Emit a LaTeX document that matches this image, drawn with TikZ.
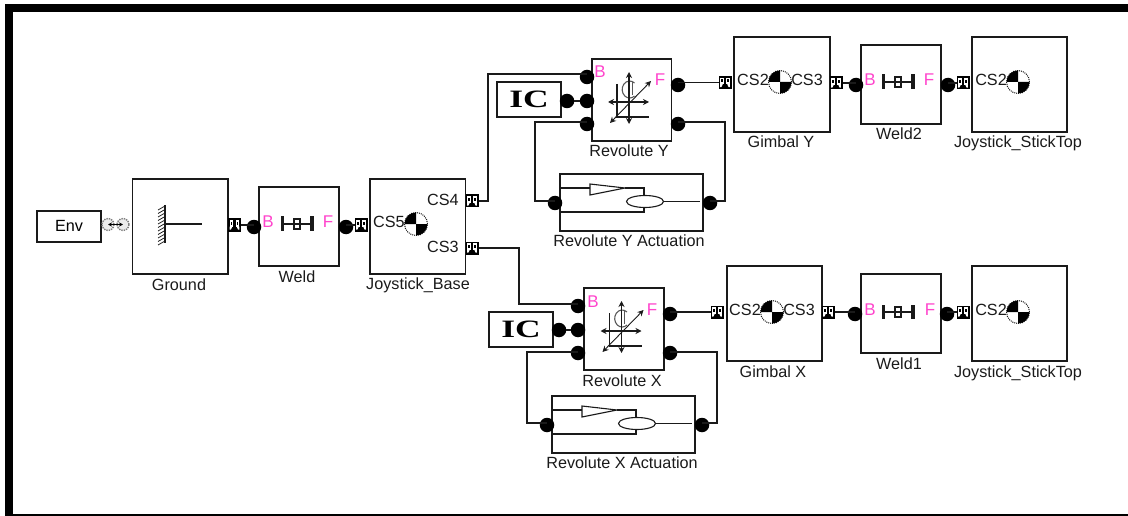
\documentclass[tikz,border=0pt]{standalone}
\usepackage{fontspec}
\setmainfont{Liberation Sans}
\newfontfamily\icfont{Liberation Serif}
\usetikzlibrary{arrows.meta}
\definecolor{ink}{HTML}{1A1A1A}
\definecolor{pinklab}{HTML}{FF44CC}
\tikzset{
  block/.style={draw=ink,line width=1.4pt,fill=white,inner sep=0pt,outer sep=0pt},
  lab/.style={anchor=base,inner sep=0pt,outer sep=0pt,text=ink,font=\fontsize{16.2}{18}\selectfont},
  pinktext/.style={lab,text=pinklab,font=\fontsize{17}{18}\selectfont},
  jdot/.style={circle,fill=black,inner sep=0pt,outer sep=0pt,minimum size=14.5pt},
  portbox/.style={fill=black,inner sep=0pt,outer sep=0pt,minimum size=13pt},
  wire/.style={draw=ink,line width=1.3pt},
  cgring/.style={circle,draw=ink,densely dotted,line width=1pt,fill=white,inner sep=0pt,outer sep=0pt,minimum size=23pt},
  envring/.style={circle,draw=gray,densely dotted,line width=1.4pt,fill=gray!15,inner sep=0pt,outer sep=0pt,minimum size=12pt},
  dbl/.style={{Stealth[length=6pt,width=6pt]}-{Stealth[length=6pt,width=6pt]}},
}
\newcommand\blk[6]{\node[block,minimum width={(#4-#2)*1pt},minimum height={(#5-#3)*1pt}] (#1) at ({(#2+#4)/2},{(#3+#5)/2}) {#6};}
\newcommand\lbl[4]{\node[lab] (#1) at (#2,#3) {#4};}
\newcommand\plbl[4]{\node[pinktext] (#1) at (#2,#3) {#4};}
\newcommand\jd[3]{\node[jdot] (#1) at (#2,#3) {};}
\newcommand\prt[3]{\node[portbox] (#1) at (#2,#3) {};
  \begin{scope}[shift={(#2,#3)}]
    \fill[white] (-4.8,-4.6) rectangle (-1.2,1.6);
    \fill[white] (1.2,-4.6) rectangle (4.8,1.6);
    \fill[white] (-4.8,1.6) -- (-2.2,1.6) -- (-3.6,4.6) -- (-4.8,4.6) -- cycle;
    \fill[white] (4.8,1.6) -- (2.2,1.6) -- (3.6,4.6) -- (4.8,4.6) -- cycle;
    \fill[black] (-3.8,-3.4) rectangle (-2.4,-.4);
    \fill[black] (2.4,-3.4) rectangle (3.8,-.4);
  \end{scope}}
\newcommand\cgm[3]{\node[cgring] (#1) at (#2,#3) {};
  \begin{scope}[shift={(#2,#3)}]
    \fill[black] (0,0) -- (-11.5,0) arc (180:270:11.5) -- cycle;
    \fill[black] (0,0) -- (11.5,0) arc (0:90:11.5) -- cycle;
  \end{scope}}
\newcommand\weldicon[2]{\begin{scope}[shift={(#1,#2)}]
    \fill[ink] (-16.5,-7.5) rectangle (-13,7);
    \fill[ink] (13,-7.5) rectangle (16.5,7);
    \draw[ink,line width=1.1pt] (-14,0) -- (-3,0) (3,0) -- (14,0);
    \draw[ink,line width=1.1pt] (-3,-5) rectangle (3,5);
    \draw[ink,line width=1.1pt] (-3,0) -- (3,0);
  \end{scope}}
\newcommand\revicon[2]{\begin{scope}[shift={(#1,#2)}]
    \draw[gray!70!black,line width=1.1pt] (5.5,-19) arc (-50:-310:7.5 and 8.5);
    \draw[gray!70!black,line width=1pt] (3,-20) -- (3,-7);
    \draw[ink,line width=1.3pt,dbl] (0,-30) -- (0,22);
    \draw[ink,line width=1.3pt,dbl] (-21,0) -- (20,0);
    \draw[ink,line width=.9pt,dbl] (-19,21) -- (22,-21);
    \draw[ink,line width=1.2pt] (-12,-18) -- (-12,15) -- (20,15);
  \end{scope}}
\newcommand\acticon[2]{\begin{scope}[shift={(#1,#2)}]
    \draw[ink,line width=1.1pt] (0,14) -- (30,14) (65,14) -- (84,14) -- (84,21);
    \draw[ink,line width=1.1pt,fill=white] (30,10) -- (65,14) -- (30,21) -- cycle;
    \draw[ink,line width=1.1pt] (0,38) -- (84,38) -- (84,33);
    \draw[ink,line width=1.1pt,fill=white] (85,27.5) ellipse (18.5 and 6);
    \draw[ink,line width=1.1pt] (103.5,27.5) -- (140,27.5);
  \end{scope}}
\begin{document}
\begin{tikzpicture}[x=1pt,y=-1pt]
\useasboundingbox (0,0) rectangle (1128,516);
% frame
\fill[black] (5,4) rectangle (1128,12);
\fill[black] (5,4) rectangle (13,516);
\fill[black] (13,514) rectangle (1128,516);

% blocks
\blk{env}{37}{211}{101}{242}{\fontsize{16.2}{18}\selectfont\raisebox{2pt}{Env}}
\blk{ground}{132.5}{179}{228}{274}{}
\blk{weld}{259}{187}{339}{266}{}
\blk{base}{370}{179}{465.5}{274}{}
\blk{revy}{592}{59}{671.5}{141}{}
\blk{icy}{497}{82}{561}{117}{\icfont\bfseries\fontsize{25}{26}\selectfont\scalebox{1.42}[1]{IC}}
\blk{acty}{560}{174}{703}{231}{}
\blk{gimy}{734}{37}{830}{132}{}
\blk{weldb}{861}{45}{941}{124}{}
\blk{topy}{972}{37}{1067}{132}{}
\blk{revx}{584}{288}{664}{370}{}
\blk{icx}{489}{312}{553}{347}{\icfont\bfseries\fontsize{25}{26}\selectfont\scalebox{1.42}[1]{IC}}
\blk{actx}{552}{396}{695}{453}{}
\blk{gimx}{727}{266}{822}{361}{}
\blk{welda}{861}{274}{941}{353}{}
\blk{topx}{972}{266}{1067}{361}{}

% ground icon
\draw[ink,line width=1.1pt] (165,205) -- (165,243) (165,224) -- (202,224);
\foreach \yy in {206,209.5,...,243}{\draw[ink,line width=.8pt] (165,\yy) -- (158,\yy+4);}

% icons
\weldicon{297}{224}
\weldicon{898}{82}
\weldicon{898}{312}
\revicon{629}{102}
\revicon{621.5}{331}
\acticon{560}{174}
\acticon{552}{396}

% CG icons
\cgm{cgbase}{416}{224}
\cgm{cggya}{780}{82}
\cgm{cgtopy}{1018}{82}
\cgm{cggxa}{772}{312}
\cgm{cgtopx}{1018}{312}

% block texts
\lbl{tcs4}{443}{205}{CS4}
\lbl{tcs3}{443}{252}{CS3}
\lbl{tcs5}{389}{228}{CS5}
\lbl{tgy2}{753}{86}{CS2}
\lbl{tgy3}{807}{86}{CS3}
\lbl{tty2}{991}{86}{CS2}
\lbl{tgx2}{745}{315}{CS2}
\lbl{tgx3}{799}{315}{CS3}
\lbl{ttx2}{991}{315}{CS2}
\plbl{wb}{268}{228}{B}
\plbl{wf}{328}{228}{F}
\plbl{wbb}{870}{86}{B}
\plbl{wbf}{929}{86}{F}
\plbl{wab}{870}{315}{B}
\plbl{waf}{930}{315}{F}
\plbl{ryb}{600}{78}{B}
\plbl{ryf}{660}{86}{F}
\plbl{rxb}{593}{307}{B}
\plbl{rxf}{652}{315}{F}

% captions
\lbl{cground}{179}{290}{Ground}
\lbl{cweld}{297}{282}{Weld}
\lbl{cbase}{418}{289}{Joystick\_Base}
\lbl{crevy}{629}{157}{Revolute Y}
\lbl{cacty}{629}{247}{Revolute Y Actuation}
\lbl{cgimy}{781}{148}{Gimbal Y}
\lbl{cweldb}{899}{140}{Weld2}
\lbl{ctopy}{1018}{148}{Joystick\_StickTop}
\lbl{crevx}{622}{386}{Revolute X}
\lbl{cactx}{622}{468}{Revolute X Actuation}
\lbl{cgimx}{773}{377}{Gimbal X}
\lbl{cwelda}{899}{369}{Weld1}
\lbl{ctopx}{1018}{377}{Joystick\_StickTop}

% dots
\jd{dwb}{254}{227}
\jd{dwf}{346}{227}
\jd{dyb}{587}{77}
\jd{dyc}{587}{101}
\jd{dyd}{587}{124}
\jd{dyf}{678}{85}
\jd{dyg}{678}{124}
\jd{dic}{567}{101}
\jd{dal}{555}{203}
\jd{dar}{710}{203}
\jd{dxb}{578}{306}
\jd{dxc}{578}{330}
\jd{dxd}{578}{353}
\jd{dxf}{670}{314}
\jd{dxg}{670}{353}
\jd{dix}{559}{330}
\jd{dbl}{547}{425}
\jd{dbr}{702}{425}
\jd{dgyb}{856}{85}
\jd{dgyf}{948}{85}
\jd{dgxb}{855}{314}
\jd{dgxf}{947}{314}

% ports
\prt{pg}{234.5}{225}
\prt{pw}{361}{225}
\prt{pcs4}{472}{201}
\prt{pcs3}{472}{248}
\prt{pyl}{725}{82.5}
\prt{pyr}{836}{83}
\prt{pyt}{963}{83}
\prt{pxl}{717}{312}
\prt{pxr}{828}{312}
\prt{pxt}{963}{312}

% Env link
\node[envring] (ea) at (108,224.5) {};
\node[envring] (eb) at (123,224.5) {};
\draw[black,line width=1.2pt,{Stealth[length=4pt,width=4pt]}-{Stealth[length=4pt,width=4pt]}] (ea.center) -- (eb.center);

% waypoints
\coordinate (w1) at (488,74);
\coordinate (w2) at (519,304);
\coordinate (w3) at (535,122);
\coordinate (w4) at (535,201);
\coordinate (w5) at (725,122);
\coordinate (w6) at (725,201);
\coordinate (w7) at (527,352);
\coordinate (w8) at (527,423);
\coordinate (w9) at (717,352);
\coordinate (w10) at (717,423);

% wires
\draw[wire] (pg.east) -- (pg.east -| dwb);
\draw[wire] (pw.west) -- (pw.west -| dwf);
\draw[wire] (pcs4.east) -| (w1) -- (w1 -| dyb);
\draw[wire] (pcs3.east) -| (w2) -- (w2 -| dxb);
\draw[wire] (dic) -- (dyc);
\draw[wire] (dix) -- (dxc);
\draw[wire] (w3 -| dyd) -- (w3) -- (w4) -- (w4 -| dal);
\draw[wire] (w5 -| dyg) -- (w5) -- (w6) -- (w6 -| dar);
\draw[wire] (w7 -| dxd) -- (w7) -- (w8) -- (w8 -| dbl);
\draw[wire] (w9 -| dxg) -- (w9) -- (w10) -- (w10 -| dbr);
\draw[wire] (pyl.west) -- (pyl.west -| dyf);
\draw[wire] (pxl.west) -- (pxl.west -| dxf);
\draw[wire] (pyr.east) -- (pyr.east -| dgyb);
\draw[wire] (pyt.west) -- (pyt.west -| dgyf);
\draw[wire] (pxr.east) -- (pxr.east -| dgxb);
\draw[wire] (pxt.west) -- (pxt.west -| dgxf);
\end{tikzpicture}
\end{document}
